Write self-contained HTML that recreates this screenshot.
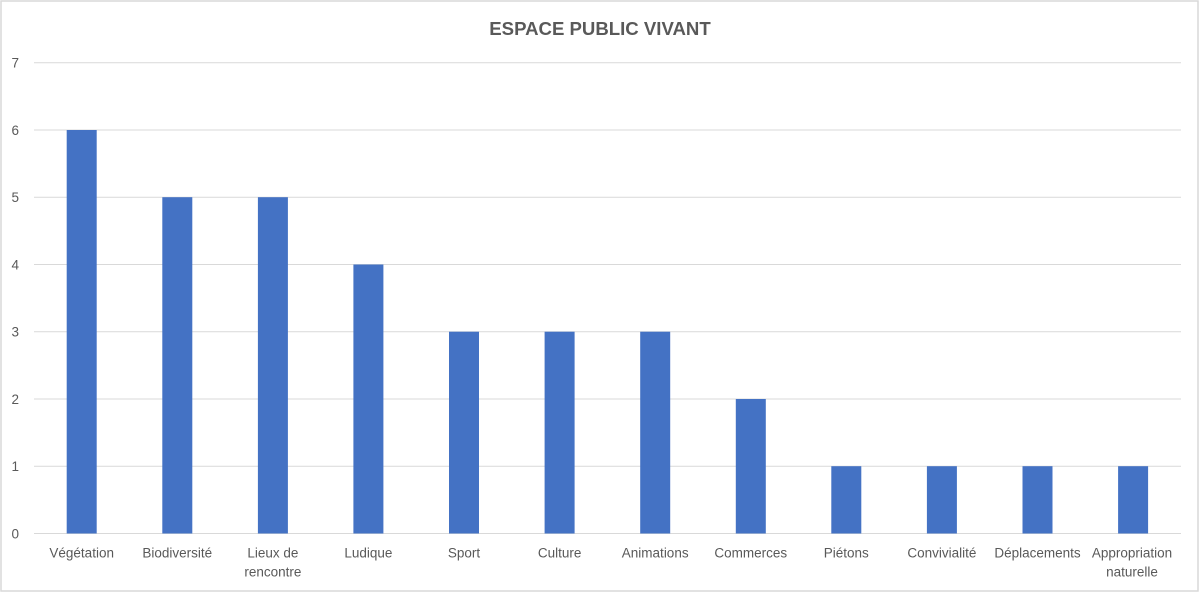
<!DOCTYPE html>
<html><head><meta charset="utf-8"><style>
html,body{margin:0;padding:0;background:#fff;}
svg{display:block;}
text{font-family:"Liberation Sans",Arial,sans-serif;fill:#595959;}
</style></head><body>
<svg width="1200" height="593" viewBox="0 0 1200 593" xmlns="http://www.w3.org/2000/svg">
<rect x="0" y="0" width="1200" height="593" fill="#fff"/>
<rect x="1" y="1" width="1197" height="590" fill="none" stroke="#d9d9d9" stroke-width="1.5"/>
<text x="600" y="35" text-anchor="middle" font-size="18.6" font-weight="bold">ESPACE PUBLIC VIVANT</text>
<g stroke="#d9d9d9" stroke-width="1">
<line x1="34" x2="1181" y1="62.7" y2="62.7"/>
<line x1="34" x2="1181" y1="130" y2="130"/>
<line x1="34" x2="1181" y1="197.2" y2="197.2"/>
<line x1="34" x2="1181" y1="264.5" y2="264.5"/>
<line x1="34" x2="1181" y1="331.7" y2="331.7"/>
<line x1="34" x2="1181" y1="399" y2="399"/>
<line x1="34" x2="1181" y1="466.2" y2="466.2"/>
<line x1="34" x2="1181" y1="533.5" y2="533.5"/>
</g>
<g font-size="13.5" text-anchor="end">
<text x="19" y="67.5">7</text>
<text x="19" y="134.8">6</text>
<text x="19" y="202">5</text>
<text x="19" y="269.3">4</text>
<text x="19" y="336.5">3</text>
<text x="19" y="403.8">2</text>
<text x="19" y="471">1</text>
<text x="19" y="538.3">0</text>
</g>
<g fill="#4472c4">
<rect x="66.7" y="130" width="30" height="403.5"/>
<rect x="162.3" y="197.2" width="30" height="336.3"/>
<rect x="257.9" y="197.2" width="30" height="336.3"/>
<rect x="353.4" y="264.5" width="30" height="269"/>
<rect x="449" y="331.7" width="30" height="201.8"/>
<rect x="544.6" y="331.7" width="30" height="201.8"/>
<rect x="640.2" y="331.7" width="30" height="201.8"/>
<rect x="735.8" y="399" width="30" height="134.5"/>
<rect x="831.3" y="466.2" width="30" height="67.3"/>
<rect x="926.9" y="466.2" width="30" height="67.3"/>
<rect x="1022.5" y="466.2" width="30" height="67.3"/>
<rect x="1118.1" y="466.2" width="30" height="67.3"/>
</g>
<g font-size="13.5" text-anchor="middle">
<text x="81.7" y="557.5">Végétation</text>
<text x="177.3" y="557.5">Biodiversité</text>
<text x="272.9" y="557.5">Lieux de</text>
<text x="272.9" y="576.5">rencontre</text>
<text x="368.4" y="557.5">Ludique</text>
<text x="464" y="557.5">Sport</text>
<text x="559.6" y="557.5">Culture</text>
<text x="655.2" y="557.5">Animations</text>
<text x="750.8" y="557.5">Commerces</text>
<text x="846.3" y="557.5">Piétons</text>
<text x="941.9" y="557.5">Convivialité</text>
<text x="1037.5" y="557.5">Déplacements</text>
<text x="1132" y="557.5">Appropriation</text>
<text x="1132" y="576.5">naturelle</text>
</g>
</svg>
</body></html>
